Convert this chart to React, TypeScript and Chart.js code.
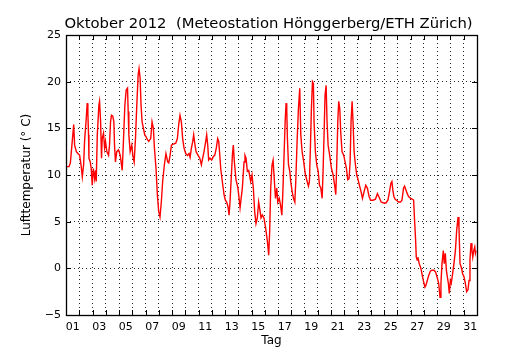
import { useEffect, useRef } from 'react';
import { Chart, registerables } from 'chart.js';

Chart.register(...registerables);

const titel = 'Oktober 2012  (Meteostation Hönggerberg/ETH Zürich)';
const yAchsenTitel = 'Lufttemperatur (° C)';
const xAchsenTitel = 'Tag';
const yTickWerte = [-5, 0, 5, 10, 15, 20, 25];
const tagLabels = ['01', '03', '05', '07', '09', '11', '13', '15', '17', '19', '21', '23', '25', '27', '29', '31'];
const ersterTag = 1;
const letzterTag = 32;

// Zeitpunkt in Tagen (1.0 = 1. Oktober 00:00)
const tag = [
  1.00, 1.23, 1.33, 1.58, 1.65, 1.78, 1.90, 2.03, 2.15, 2.23, 2.33, 2.40, 2.53, 2.60, 2.65, 2.70, 2.73, 2.83, 2.90, 2.98,
  3.06, 3.16, 3.23, 3.28, 3.36, 3.48, 3.53, 3.61, 3.68, 3.73, 3.83, 3.91, 3.98, 4.08, 4.21, 4.28, 4.36, 4.43, 4.53, 4.61,
  4.66, 4.73, 4.83, 4.96, 5.09, 5.24, 5.34, 5.44, 5.54, 5.64, 5.69, 5.74, 5.84, 5.96, 6.04, 6.14, 6.24, 6.34, 6.44, 6.51,
  6.59, 6.66, 6.74, 6.84, 6.94, 7.04, 7.14, 7.24, 7.39, 7.49, 7.59, 7.67, 7.79, 7.89, 7.99, 8.09, 8.19, 8.29, 8.42, 8.54,
  8.67, 8.75, 8.85, 8.95, 9.10, 9.28, 9.40, 9.50, 9.60, 9.70, 9.80, 9.90, 10.03, 10.16, 10.28, 10.36, 10.46, 10.56, 10.63, 10.71,
  10.81, 10.96, 11.09, 11.21, 11.31, 11.41, 11.54, 11.61, 11.69, 11.76, 11.86, 11.99, 12.12, 12.22, 12.34, 12.44, 12.52, 12.59, 12.67, 12.79,
  12.92, 13.02, 13.12, 13.22, 13.30, 13.37, 13.45, 13.55, 13.62, 13.70, 13.82, 13.97, 14.13, 14.30, 14.43, 14.50, 14.58, 14.68, 14.78, 14.93,
  15.03, 15.13, 15.23, 15.33, 15.43, 15.53, 15.61, 15.71, 15.81, 15.93, 16.06, 16.19, 16.29, 16.36, 16.44, 16.54, 16.62, 16.72, 16.80, 16.90,
  16.97, 17.08, 17.18, 17.28, 17.35, 17.43, 17.53, 17.60, 17.65, 17.70, 17.78, 17.88, 17.95, 18.06, 18.16, 18.26, 18.33, 18.43, 18.53, 18.63,
  18.71, 18.81, 18.93, 19.06, 19.19, 19.29, 19.36, 19.44, 19.51, 19.59, 19.66, 19.71, 19.81, 19.91, 20.02, 20.12, 20.22, 20.32, 20.39, 20.47,
  20.54, 20.62, 20.69, 20.77, 20.89, 21.02, 21.15, 21.27, 21.35, 21.42, 21.50, 21.57, 21.65, 21.72, 21.82, 21.95, 22.05, 22.15, 22.25, 22.35,
  22.43, 22.50, 22.58, 22.65, 22.73, 22.83, 22.93, 23.03, 23.13, 23.26, 23.36, 23.48, 23.61, 23.73, 23.86, 23.98, 24.16, 24.34, 24.49, 24.59,
  24.65, 24.77, 24.95, 25.13, 25.28, 25.40, 25.50, 25.58, 25.65, 25.73, 25.83, 25.93, 26.08, 26.23, 26.34, 26.46, 26.54, 26.64, 26.74, 26.84,
  26.99, 27.14, 27.22, 27.29, 27.37, 27.42, 27.49, 27.54, 27.64, 27.75, 27.85, 27.95, 28.07, 28.15, 28.25, 28.35, 28.48, 28.60, 28.75, 28.88,
  28.98, 29.11, 29.21, 29.28, 29.36, 29.46, 29.53, 29.61, 29.69, 29.76, 29.84, 29.91, 29.99, 30.06, 30.16, 30.26, 30.37, 30.47, 30.57, 30.64,
  30.72, 30.82, 30.92, 31.02, 31.12, 31.22, 31.32, 31.40, 31.47, 31.55, 31.62, 31.68, 31.75, 31.83, 31.88, 31.93,
];

// Lufttemperatur in °C
const temperatur = [
  10.9, 10.9, 11.3, 15.4, 13.2, 12.5, 12.3, 12.1, 10.9, 9.8, 11.1, 13.6, 16.1, 17.7, 16.6, 14.3, 11.8, 11.4, 10.7, 8.9,
  10.7, 9.6, 10.5, 9.3, 14.3, 17.5, 17.9, 15.7, 11.8, 13.9, 14.5, 12.9, 13.6, 12.5, 12.1, 13.2, 15.7, 16.4, 16.3, 15.7,
  13.2, 11.4, 12.5, 12.7, 12.1, 10.5, 13.9, 17.5, 19.1, 19.3, 16.8, 14.3, 12.5, 13.2, 12.1, 11.4, 13.9, 17.5, 20.7, 21.4,
  20.4, 17.5, 15.7, 15.0, 14.3, 14.1, 13.8, 13.6, 13.9, 15.7, 15.0, 12.9, 10.7, 7.9, 6.1, 5.5, 7.1, 9.3, 11.1, 12.3,
  11.4, 11.3, 12.1, 13.2, 13.3, 13.4, 13.9, 15.4, 16.4, 15.7, 13.9, 12.9, 12.3, 12.1, 12.3, 11.9, 12.9, 13.6, 14.3, 13.4,
  12.5, 12.1, 11.8, 11.1, 11.8, 12.5, 13.6, 14.3, 13.2, 11.6, 11.8, 11.6, 12.0, 12.1, 12.9, 13.9, 13.6, 12.3, 10.7, 9.3,
  7.9, 7.3, 7.1, 6.6, 5.7, 7.1, 9.3, 12.1, 13.2, 11.4, 9.5, 8.6, 6.5, 8.6, 11.4, 12.1, 11.8, 10.4, 10.5, 9.3,
  10.0, 8.6, 6.1, 4.8, 5.4, 7.1, 6.4, 5.4, 5.7, 5.4, 4.3, 2.9, 1.4, 3.9, 8.6, 11.1, 11.6, 9.3, 7.5, 8.6,
  7.1, 7.5, 6.8, 5.7, 7.9, 11.4, 15.7, 17.7, 17.1, 13.9, 11.1, 10.4, 9.3, 8.2, 7.5, 7.1, 9.3, 13.6, 17.1, 19.3,
  14.3, 12.5, 11.4, 10.0, 9.3, 8.8, 9.3, 13.2, 17.1, 20.0, 19.8, 15.7, 12.5, 11.1, 10.4, 8.9, 8.6, 7.5, 10.4, 14.6,
  18.6, 19.6, 15.7, 13.2, 12.1, 10.7, 10.0, 8.8, 7.9, 11.1, 15.7, 17.9, 17.1, 14.6, 12.5, 12.1, 11.4, 10.7, 9.5, 9.6,
  11.4, 15.7, 17.9, 15.7, 12.5, 11.1, 10.0, 9.5, 8.9, 8.2, 7.5, 8.2, 8.9, 8.6, 7.7, 7.3, 7.3, 7.4, 8.0, 7.7,
  7.5, 7.1, 7.0, 7.0, 7.3, 8.2, 9.1, 9.3, 8.4, 7.7, 7.4, 7.3, 7.1, 7.1, 7.3, 8.6, 8.8, 8.4, 8.0, 7.7,
  7.5, 7.4, 7.3, 5.2, 3.0, 1.2, 0.9, 1.2, 0.5, 0.1, -0.6, -1.3, -2.0, -1.8, -1.3, -0.8, -0.3, -0.2, -0.2, -0.4,
  -0.9, -1.6, -3.1, -1.6, 0.5, 1.9, 0.5, 1.6, -0.2, -0.9, -1.6, -2.7, -1.3, -1.6, -0.6, 0.5, 1.9, 4.1, 5.5, 4.4,
  0.5, 0.1, -0.6, -0.9, -1.6, -2.5, -2.3, -1.3, 0.9, 2.7, 1.9, 1.2, 1.9, 2.3, 1.6, 1.9,
];

const FONT = "'DejaVu Sans', sans-serif";

function tagTicks() {
  const t: { value: number }[] = [];
  for (let d = ersterTag; d <= letzterTag; d++) t.push({ value: d });
  for (const l of tagLabels) t.push({ value: parseInt(l, 10) + 0.5 });
  t.sort((a, b) => a.value - b.value);
  return t;
}

const rahmenPlugin = {
  id: 'rahmen',
  afterDatasetsDraw(chart: any) {
    const { ctx, chartArea: a, scales } = chart;
    const x = scales.x;
    const y = scales.y;
    const len = 5;
    ctx.save();
    ctx.strokeStyle = '#000';
    ctx.lineWidth = 1;
    ctx.beginPath();
    for (let d = ersterTag; d <= letzterTag; d++) {
      const px = Math.round(x.getPixelForValue(d)) + 0.5;
      ctx.moveTo(px, a.bottom);
      ctx.lineTo(px, a.bottom - len);
      ctx.moveTo(px, a.top);
      ctx.lineTo(px, a.top + len);
    }
    for (const v of yTickWerte) {
      const py = Math.round(y.getPixelForValue(v)) + 0.5;
      ctx.moveTo(a.left, py);
      ctx.lineTo(a.left + len, py);
      ctx.moveTo(a.right, py);
      ctx.lineTo(a.right - len, py);
    }
    ctx.stroke();
    ctx.lineWidth = 1.3;
    ctx.strokeRect(Math.round(a.left) + 0.5, Math.round(a.top) + 0.5, Math.round(a.right - a.left), Math.round(a.bottom - a.top));
    ctx.restore();
  },
  afterDraw(chart: any) {
    const { ctx, chartArea: a } = chart;
    ctx.save();
    ctx.fillStyle = '#000';
    ctx.font = `14.8px ${FONT}`;
    ctx.textAlign = 'center';
    ctx.textBaseline = 'alphabetic';
    ctx.fillText(titel, (a.left + a.right) / 2 - 3, 28);
    ctx.restore();
  },
};

export default function App() {
  const ref = useRef<HTMLCanvasElement | null>(null);

  useEffect(() => {
    document.body.style.margin = '0';
    if (!ref.current) return;
    const punkte = tag.map((t, i) => ({ x: t, y: temperatur[i] }));
    const chart = new Chart(ref.current, {
      type: 'line',
      data: {
        datasets: [
          {
            data: punkte,
            borderColor: '#ff0000',
            borderWidth: 1.4,
            pointRadius: 0,
            tension: 0,
            fill: false,
          },
        ],
      },
      options: {
        animation: false,
        responsive: false,
        devicePixelRatio: 1,
        parsing: false as any,
        layout: { padding: { top: 35, right: 53, left: 0, bottom: 0 } },
        plugins: {
          legend: { display: false },
          tooltip: { enabled: false },
          title: { display: false },
        },
        scales: {
          x: {
            type: 'linear',
            min: ersterTag,
            max: letzterTag,
            afterBuildTicks: (scale: any) => {
              scale.ticks = tagTicks();
            },
            afterFit: (scale: any) => {
              scale.height = 35;
            },
            ticks: {
              autoSkip: false,
              maxRotation: 0,
              minRotation: 0,
              padding: 6,
              color: '#000',
              font: { family: FONT, size: 11 },
              callback: (value: any) => {
                const d = Number(value) - 0.5;
                if (Number.isInteger(d)) {
                  const s = String(d).padStart(2, '0');
                  return tagLabels.includes(s) ? s : '';
                }
                return '';
              },
            },
            grid: {
              drawTicks: false,
              lineWidth: 1,
              color: (ctx: any) => {
                const v = ctx.tick ? ctx.tick.value : 0;
                return Number.isInteger(v) && v > ersterTag && v < letzterTag ? 'rgba(0,0,0,0.85)' : 'rgba(0,0,0,0)';
              },
            },
            border: { display: false, dash: [1, 3] },
            title: {
              display: true,
              text: xAchsenTitel,
              color: '#000',
              font: { family: FONT, size: 12 },
              padding: { top: 0, bottom: 2 },
            },
          },
          y: {
            type: 'linear',
            min: -5,
            max: 25,
            afterBuildTicks: (scale: any) => {
              scale.ticks = yTickWerte.map((v) => ({ value: v }));
            },
            afterFit: (scale: any) => {
              scale.width = 66;
            },
            ticks: {
              padding: 5,
              color: '#000',
              font: { family: FONT, size: 11 },
              callback: (value: any) => {
                const v = Number(value);
                return v < 0 ? '\u2212' + Math.abs(v) : String(v);
              },
            },
            grid: {
              drawTicks: false,
              lineWidth: 1,
              color: (ctx: any) => {
                const v = ctx.tick ? ctx.tick.value : 0;
                return v > -5 && v < 25 ? 'rgba(0,0,0,0.85)' : 'rgba(0,0,0,0)';
              },
            },
            border: { display: false, dash: [1, 3] },
            title: {
              display: true,
              text: yAchsenTitel,
              color: '#000',
              font: { family: FONT, size: 12 },
              padding: { top: 20, bottom: 0 },
            },
          },
        },
      },
      plugins: [rahmenPlugin],
    });
    return () => chart.destroy();
  }, []);

  return (
    <div style={{ width: 530, height: 350 }}>
      <canvas ref={ref} width={530} height={350} style={{ display: 'block' }} />
    </div>
  );
}
